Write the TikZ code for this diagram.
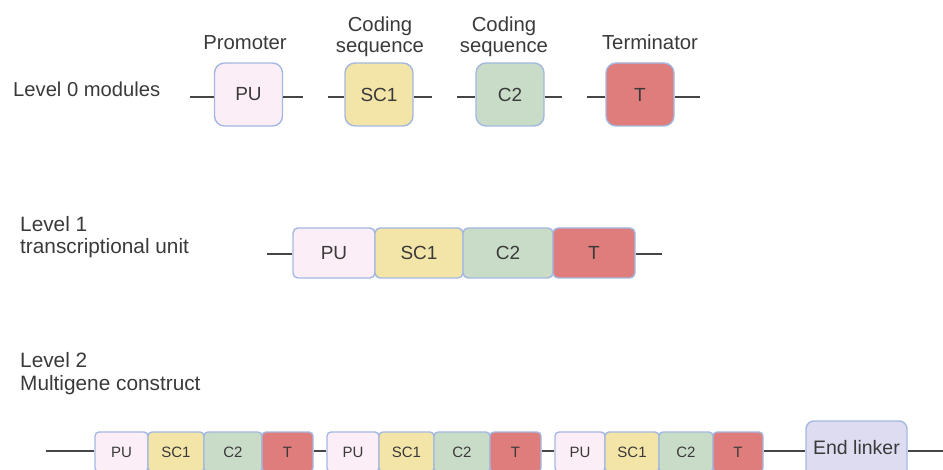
\documentclass[tikz,border=0pt]{standalone}
\usepackage{fontspec}
\setmainfont{Liberation Sans}
\definecolor{pucol}{HTML}{FCEEF6}
\definecolor{sccol}{HTML}{F3E4A8}
\definecolor{ccol}{HTML}{C9DCC8}
\definecolor{tcol}{HTML}{DF7C7C}
\definecolor{elcol}{HTML}{DEDCF0}
\definecolor{edgecol}{HTML}{A3B8E0}
\definecolor{linecol}{HTML}{454545}
\definecolor{txtcol}{HTML}{3A3A3A}
\begin{document}
\begin{tikzpicture}[x=1pt,y=-1pt,
  seg/.style={draw=edgecol, line width=1.4pt, inner sep=0pt, text=txtcol},
  box0/.style={seg, rounded corners=10pt, minimum width=68pt, minimum height=63pt, font=\fontsize{19}{22}\selectfont},
  box1/.style={seg, rounded corners=5pt, minimum height=50pt, font=\fontsize{19}{22}\selectfont},
  box2/.style={seg, rounded corners=4pt, minimum height=40pt, font=\fontsize{15}{18}\selectfont},
  wire/.style={draw=linecol, line width=1.8pt},
  lbl/.style={text=txtcol, font=\fontsize{20.3}{22}\selectfont, inner sep=0pt, anchor=base},
  lvl/.style={text=txtcol, font=\fontsize{20.8}{22}\selectfont, inner sep=0pt, anchor=base west}]
\useasboundingbox (0,0) rectangle (943,470);
\clip (0,0) rectangle (943,470);

% ---------- Level 0 ----------
\node[lvl, font=\fontsize{20.2}{22}\selectfont] (l0) at (13,97) {Level 0 modules};
\node[box0, fill=pucol] (pu0) at (248.5,94.5) {PU};
\node[box0, fill=sccol] (sc0) at (379,94.5) {SC1};
\node[box0, fill=ccol]  (c0)  at (510,94.5) {C2};
\node[box0, fill=tcol]  (t0)  at (640,94.5) {T};
\node[lbl] (lp) at (245,50) {Promoter};
\node[lbl] (ls1a) at (380,32) {Coding};
\node[lbl] (ls1b) at (380,53) {sequence};
\node[lbl] (ls2a) at (504,32) {Coding};
\node[lbl] (ls2b) at (504,53) {sequence};
\node[lbl] (lt) at (650,50) {Terminator};
\coordinate (a1) at (190,97); \coordinate (a2) at (303,97);
\coordinate (b1) at (328,97); \coordinate (b2) at (432,97);
\coordinate (c1) at (457,97); \coordinate (c2) at (562,97);
\coordinate (d1) at (587,97); \coordinate (d2) at (700,97);
\draw[wire] (a1) -- (pu0.west |- a1);
\draw[wire] (pu0.east |- a2) -- (a2);
\draw[wire] (b1) -- (sc0.west |- b1);
\draw[wire] (sc0.east |- b2) -- (b2);
\draw[wire] (c1) -- (c0.west |- c1);
\draw[wire] (c0.east |- c2) -- (c2);
\draw[wire] (d1) -- (t0.west |- d1);
\draw[wire] (t0.east |- d2) -- (d2);

% ---------- Level 1 ----------
\node[lvl] (l1a) at (20,232) {Level 1};
\node[lvl] (l1b) at (20,254) {transcriptional unit};
\node[box1, fill=pucol, minimum width=82pt] (pu1) at (334,253) {PU};
\node[box1, fill=sccol, minimum width=88pt] (sc1) at (419,253) {SC1};
\node[box1, fill=ccol,  minimum width=90pt] (c1n) at (508,253) {C2};
\node[box1, fill=tcol,  minimum width=82pt] (t1) at (594,253) {T};
\coordinate (e1) at (267,254); \coordinate (e2) at (662,254);
\draw[wire] (e1) -- (pu1.west |- e1);
\draw[wire] (t1.east |- e2) -- (e2);

% ---------- Level 2 ----------
\node[lvl] (l2a) at (20,368) {Level 2};
\node[lvl] (l2b) at (20,391) {Multigene construct};
% group 1
\node[box2, fill=pucol, minimum width=53pt] (pua) at (121.5,452) {PU};
\node[box2, fill=sccol, minimum width=56pt] (sca) at (176,452) {SC1};
\node[box2, fill=ccol,  minimum width=58pt] (ca)  at (233,452) {C2};
\node[box2, fill=tcol,  minimum width=51pt] (ta)  at (287.5,452) {T};
% group 2
\node[box2, fill=pucol, minimum width=52pt] (pub) at (353,452) {PU};
\node[box2, fill=sccol, minimum width=55pt] (scb) at (406.5,452) {SC1};
\node[box2, fill=ccol,  minimum width=56pt] (cb)  at (462,452) {C2};
\node[box2, fill=tcol,  minimum width=51pt] (tb)  at (515.5,452) {T};
% group 3
\node[box2, fill=pucol, minimum width=50pt] (puc) at (580,452) {PU};
\node[box2, fill=sccol, minimum width=54pt] (scc) at (632,452) {SC1};
\node[box2, fill=ccol,  minimum width=54pt] (cc)  at (686,452) {C2};
\node[box2, fill=tcol,  minimum width=50pt] (tc)  at (738,452) {T};
% end linker
\node[seg, fill=elcol, rounded corners=8pt, minimum width=101pt, minimum height=62pt,
      font=\fontsize{19.5}{22}\selectfont] (el) at (856.5,452) {\raisebox{9pt}{End linker}};
\coordinate (f1) at (46,451); \coordinate (f2) at (943,451);
\draw[wire] (f1) -- (pua.west |- f1);
\draw[wire] (ta.east |- f1) -- (pub.west |- f1);
\draw[wire] (tb.east |- f1) -- (puc.west |- f1);
\draw[wire] (tc.east |- f1) -- (el.west |- f1);
\draw[wire] (el.east |- f2) -- (f2);
\end{tikzpicture}
\end{document}
